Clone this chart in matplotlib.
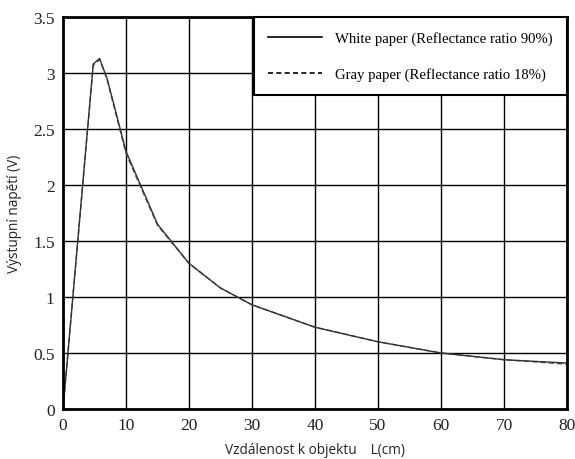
import matplotlib
matplotlib.use("Agg")
import matplotlib.pyplot as plt
from matplotlib.lines import Line2D

# Data
x_white = [0, 4.8, 5.8, 7, 10, 15, 20, 25, 30, 40, 50, 60, 70, 80]
y_white = [0, 3.08, 3.13, 2.95, 2.3, 1.65, 1.3, 1.08, 0.93, 0.73, 0.6, 0.5, 0.44, 0.41]
x_gray = [0, 4.8, 5.8, 7, 10, 15, 20, 25, 30, 40, 50, 60, 70, 80]
y_gray = [0, 3.07, 3.12, 2.94, 2.28, 1.64, 1.3, 1.08, 0.93, 0.73, 0.6, 0.5, 0.44, 0.40]
x_ticks = [0, 10, 20, 30, 40, 50, 60, 70, 80]
y_ticks = [0, 0.5, 1, 1.5, 2, 2.5, 3, 3.5]
y_tick_labels = ["0", "0.5", "1", "1.5", "2", "2.5", "3", "3.5"]
labels = ["White paper (Reflectance ratio 90%)", "Gray paper (Reflectance ratio 18%)"]

fig = plt.figure(figsize=(5.75, 4.6), dpi=100)
ax = fig.add_axes([0.1096, 0.1087, 0.8765, 0.8522])

ax.plot(x_gray, y_gray, color="#555555", lw=1.0, ls=(0, (4, 2)))
ax.plot(x_white, y_white, color="#333333", lw=1.0)

ax.set_xlim(0, 80)
ax.set_ylim(0, 3.5)
ax.set_xticks(x_ticks)
ax.set_yticks(y_ticks)
ax.set_yticklabels(y_tick_labels)
ax.tick_params(length=0, pad=6, labelsize=12.5)
for lab in ax.get_xticklabels() + ax.get_yticklabels():
    lab.set_fontfamily("Liberation Serif")
    lab.set_color("#222222")
ax.grid(True, color="black", lw=1.0)
for s in ax.spines.values():
    s.set_linewidth(2.0)
    s.set_color("black")

ax.set_xlabel("Vzdálenost k objektu    L(cm)", fontfamily="Open Sans", fontsize=9.8, color="#222222", labelpad=6)
ax.set_ylabel("Výstupní napětí (V)", fontfamily="Open Sans", fontsize=9.8, color="#222222", labelpad=8)

handles = [Line2D([], [], color="black", lw=1.2),
           Line2D([], [], color="black", lw=1.2, ls=(0, (3, 2)))]
leg = ax.legend(handles, labels, loc="upper right", bbox_to_anchor=(1.0, 1.0),
                prop={"family": "Liberation Serif", "size": 10.6}, frameon=True,
                fancybox=False, handlelength=3.7, handletextpad=0.9,
                labelspacing=1.5, borderpad=0.95, borderaxespad=0.0)
leg.get_frame().set_edgecolor("black")
leg.get_frame().set_linewidth(1.5)
leg.get_frame().set_alpha(1)

fig.savefig("out.png", dpi=100)
